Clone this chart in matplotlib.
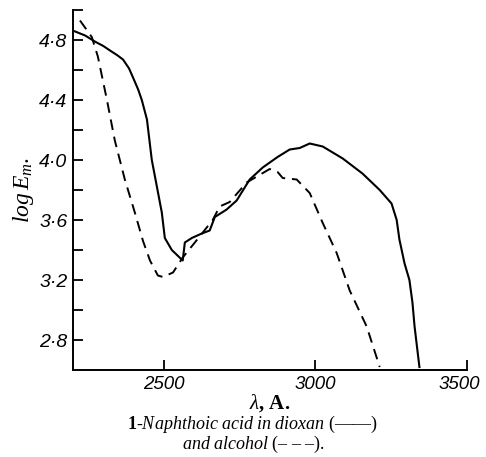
import matplotlib.pyplot as plt
import matplotlib.transforms as mtransforms
import numpy as np

# solid curve: 1-naphthoic acid in dioxan
dioxan_wl = [2203, 2240, 2272, 2300, 2322, 2345, 2365, 2385, 2398, 2415, 2427, 2444,
             2460, 2477, 2493, 2503, 2526, 2562, 2569, 2592, 2625, 2651, 2668, 2707,
             2740, 2783, 2826, 2875, 2915, 2948, 2981, 3024, 3090, 3155, 3212, 3251,
             3268, 3277, 3294, 3310, 3320, 3327, 3343]
dioxan_log = [4.86, 4.83, 4.79, 4.76, 4.73, 4.70, 4.67, 4.61, 4.55, 4.47, 4.40, 4.27,
              4.00, 3.82, 3.65, 3.48, 3.40, 3.33, 3.45, 3.48, 3.51, 3.53, 3.62, 3.67,
              3.73, 3.87, 3.95, 4.02, 4.07, 4.08, 4.11, 4.09, 4.01, 3.91, 3.80, 3.71,
              3.60, 3.47, 3.31, 3.20, 3.05, 2.89, 2.62]

# dashed curve: same acid in alcohol
alcohol_wl = [2223, 2262, 2282, 2312, 2338, 2371, 2404, 2431, 2454, 2480, 2497, 2530,
              2562, 2602, 2661, 2684, 2717, 2773, 2849, 2875, 2892, 2938, 2981, 3024,
              3070, 3113, 3169, 3212]
alcohol_log = [4.93, 4.82, 4.69, 4.40, 4.13, 3.87, 3.65, 3.46, 3.33, 3.23, 3.22, 3.25,
               3.35, 3.45, 3.60, 3.69, 3.72, 3.85, 3.94, 3.92, 3.88, 3.87, 3.78, 3.58,
               3.38, 3.13, 2.89, 2.62]

x_ticks = [2500, 3000, 3500]
y_ticks = [2.8, 3.0, 3.2, 3.4, 3.6, 3.8, 4.0, 4.2, 4.4, 4.6, 4.8, 5.0]
y_labels = ['2·8', '', '3·2', '', '3·6', '', '4·0', '', '4·4', '', '4·8', '']

plt.rcParams['mathtext.fontset'] = 'custom'
plt.rcParams['mathtext.rm'] = 'Liberation Serif'
plt.rcParams['mathtext.it'] = 'Liberation Serif:italic'
plt.rcParams['mathtext.bf'] = 'Liberation Serif:bold'

fig = plt.figure(figsize=(4.86, 4.57), dpi=100)
ax = fig.add_axes([73/486, 87/457, 394/486, 360/457])

ax.plot(dioxan_wl, dioxan_log, color='black', lw=1.5)
ax.plot(alcohol_wl, alcohol_log, color='black', lw=1.4, dashes=(5.5, 3.5))

ax.set_xlim(2200, 3500)
ax.set_ylim(2.6, 5.0)
ax.spines['top'].set_visible(False)
ax.spines['right'].set_visible(False)
for s in ['left', 'bottom']:
    ax.spines[s].set_linewidth(1.4)

ax.set_xticks(x_ticks)
ax.set_xticklabels([str(t) for t in x_ticks], fontstyle='italic',
                   family='Liberation Sans', fontsize=13.5)
ax.set_yticks(y_ticks)
ax.set_yticklabels(y_labels, fontstyle='italic', family='Liberation Sans', fontsize=14)
ax.tick_params(direction='in', length=7, width=1.3, pad=4)

# the last x label sits a little left of its tick in the original
last = ax.get_xticklabels()[-1]
last.set_transform(last.get_transform() +
                   mtransforms.ScaledTranslation(-8/100, 0, fig.dpi_scale_trans))

ax.set_ylabel(r'$log\,E_m.$', fontsize=17, labelpad=2)
ax.set_xlabel(r'$\lambda$, A.', fontsize=15, family='Liberation Serif',
              fontweight='bold', labelpad=0)

fig.text(252/486, 1 - 424/457, r'$\mathbf{1}$-$\mathit{Naphthoic\ acid\ in\ dioxan}$ (——)',
         ha='center', va='center', fontsize=13, family='Liberation Serif')
fig.text(254/486, 1 - 444/457, r'$\mathit{and\ alcohol}$ (– – –).',
         ha='center', va='center', fontsize=13, family='Liberation Serif')

fig.savefig('out.png', dpi=100)
